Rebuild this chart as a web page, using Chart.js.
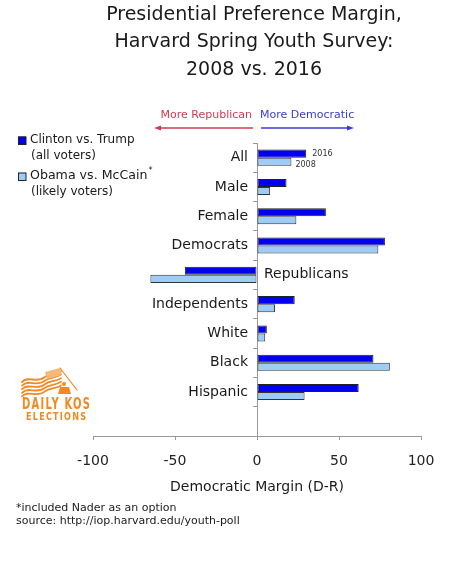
<!DOCTYPE html>
<html><head><meta charset="utf-8">
<script src="https://cdn.jsdelivr.net/npm/chart.js@4.4.0/dist/chart.umd.min.js"></script>
<style>html,body{margin:0;padding:0;background:#fff}canvas{display:block}</style>
</head><body>
<canvas id="c" width="460" height="580"></canvas>
<script>
// ---- data ----
const categories = ["All","Male","Female","Democrats","Republicans","Independents","White","Black","Hispanic",""];
const clintonTrump2016 = [30,18,42,78,-44,23,6,71,62,null];
const obamaMcCain2008 = [21,8,24,74,-65,11,5,81,29,null];
const seriesNames = ["Clinton vs. Trump","Obama vs. McCain"];
const seriesNotes = ["(all voters)","(likely voters)"];
const seriesYears = ["2016","2008"];
const xTicks = [-100,-50,0,50,100];
const titleLines = ["Presidential Preference Margin,","Harvard Spring Youth Survey:","2008 vs. 2016"];
const xAxisTitle = "Democratic Margin (D-R)";
const directionLabels = ["More Republican","More Democratic"];
const footnotes = ["*included Nader as an option","source: http://iop.harvard.edu/youth-poll"];
const logoText = ["DAILY KOS","ELECTIONS"];

const FONT = '"DejaVu Sans", sans-serif';
const COLORS = ["#0000ee","#9dcdf7"];

function fitText(ctx, text, cx, cy, targetW, font, spacing){
  ctx.save();
  ctx.font = font;
  if ('letterSpacing' in ctx) ctx.letterSpacing = spacing + 'px';
  const w = ctx.measureText(text).width - spacing;
  ctx.translate(cx, cy);
  ctx.scale(targetW / w, 1);
  ctx.textAlign = 'left';
  ctx.fillText(text, -w / 2, 0);
  ctx.restore();
}

const overlay = {
  id: 'overlay',
  afterDraw(chart){
    const ctx = chart.ctx;
    const xs = chart.scales.x, ys = chart.scales.y;
    const x0 = xs.getPixelForValue(0);
    ctx.save();
    // title
    ctx.fillStyle = '#1a1a1a';
    ctx.textAlign = 'center'; ctx.textBaseline = 'middle';
    ctx.font = '19px ' + FONT;
    titleLines.forEach((t,i)=> ctx.fillText(t, 254, 15 + i*27.5));
    // direction labels + arrows
    ctx.font = '11px ' + FONT;
    ctx.fillStyle = '#d23a4f'; ctx.textAlign = 'right';
    ctx.fillText(directionLabels[0], x0 - 5, 115);
    ctx.fillStyle = '#3b3bd2'; ctx.textAlign = 'left';
    ctx.fillText(directionLabels[1], x0 + 3, 115);
    ctx.lineWidth = 1.3;
    ctx.strokeStyle = '#d23a4f'; ctx.fillStyle = '#d23a4f';
    ctx.beginPath(); ctx.moveTo(x0 - 4, 128); ctx.lineTo(x0 - 100, 128); ctx.stroke();
    ctx.beginPath(); ctx.moveTo(x0 - 103, 128); ctx.lineTo(x0 - 96, 125.5); ctx.lineTo(x0 - 96, 130.5); ctx.closePath(); ctx.fill();
    ctx.strokeStyle = '#3b3bd2'; ctx.fillStyle = '#3b3bd2';
    ctx.beginPath(); ctx.moveTo(x0 + 4, 128); ctx.lineTo(x0 + 93, 128); ctx.stroke();
    ctx.beginPath(); ctx.moveTo(x0 + 97, 128); ctx.lineTo(x0 + 90, 125.5); ctx.lineTo(x0 + 90, 130.5); ctx.closePath(); ctx.fill();
    // category labels
    ctx.font = '14px ' + FONT; ctx.fillStyle = '#1a1a1a'; ctx.textBaseline = 'middle';
    categories.forEach((c,i)=>{
      if (!c) return;
      const y = ys.getPixelForValue(i);
      const v = clintonTrump2016[i];
      if (v < 0) { ctx.textAlign = 'left'; ctx.fillText(c, x0 + 7, y); }
      else { ctx.textAlign = 'right'; ctx.fillText(c, x0 - 9, y); }
    });
    // year labels next to first category bars
    ctx.font = '8px ' + FONT; ctx.fillStyle = '#333'; ctx.textAlign = 'left';
    [0,1].forEach(d=>{
      const bar = chart.getDatasetMeta(d).data[0];
      ctx.fillText(seriesYears[d], bar.x + (d===0?6:4), bar.y + (d===0?0:3));
    });
    // legend
    const legY = [140, 176];
    [0,1].forEach(d=>{
      const y = legY[d];
      ctx.fillStyle = COLORS[d];
      ctx.fillRect(18, y - 3.5, 8, 8);
      ctx.strokeStyle = '#222'; ctx.lineWidth = 1;
      ctx.strokeRect(18.5, y - 3, 7.5, 7.5);
      ctx.fillStyle = '#1a1a1a'; ctx.font = '12px ' + FONT; ctx.textAlign = 'left';
      if (d === 1) {
        ctx.font = '12.6px ' + FONT;
        ctx.fillText(seriesNames[d], 30, y);
        const w = ctx.measureText(seriesNames[d]).width;
        ctx.font = '8px ' + FONT;
        ctx.fillText('*', 30 + w + 1, y - 5);
        ctx.font = '12px ' + FONT;
      } else {
        ctx.fillText(seriesNames[d], 30, y);
      }
      ctx.fillText(seriesNotes[d], 31, y + 15.5);
    });
    // footnotes
    ctx.font = '11px ' + FONT; ctx.fillStyle = '#1a1a1a'; ctx.textAlign = 'left';
    footnotes.forEach((t,i)=> ctx.fillText(t, 16, 508 + i*13.5));
    // logo
    drawLogo(ctx);
    ctx.restore();
  }
};

function drawLogo(ctx){
  const o = '#f08a24';
  ctx.save();
  ctx.strokeStyle = o; ctx.lineWidth = 1.8; ctx.lineCap = 'round';
  for (let k = 0; k < 5; k++) {
    const dy = k * 3.6;
    ctx.beginPath();
    ctx.moveTo(22, 382 + dy);
    ctx.bezierCurveTo(29, 375 + dy, 36, 384 + dy, 45, 377 + dy);
    ctx.bezierCurveTo(50, 373 + dy, 55, 375 + dy, 61, 371 + dy);
    ctx.stroke();
  }
  // canton
  ctx.fillStyle = '#f6b878';
  ctx.beginPath(); ctx.moveTo(45, 372); ctx.lineTo(60, 368); ctx.lineTo(62, 375); ctx.lineTo(47, 379); ctx.closePath(); ctx.fill();
  // pole
  ctx.lineWidth = 1.2;
  ctx.beginPath(); ctx.moveTo(60, 368); ctx.lineTo(77, 390); ctx.stroke();
  // figure
  ctx.fillStyle = o;
  ctx.beginPath(); ctx.arc(64, 384, 2, 0, Math.PI*2); ctx.fill();
  ctx.beginPath(); ctx.moveTo(58, 394); ctx.lineTo(60, 387); ctx.lineTo(69, 387); ctx.lineTo(71, 394); ctx.closePath(); ctx.fill();
  // text
  ctx.textBaseline = 'middle';
  fitText(ctx, logoText[0], 56, 404.5, 68, 'bold 16px ' + FONT, 2);
  fitText(ctx, logoText[1], 56, 417, 60, 'bold 10px ' + FONT, 1.5);
  ctx.restore();
}

new Chart(document.getElementById('c'), {
  type: 'bar',
  data: {
    labels: categories,
    datasets: [
      { label: seriesNames[0], data: clintonTrump2016, backgroundColor: COLORS[0], borderColor: '#222', borderWidth: 1, borderSkipped: false },
      { label: seriesNames[1], data: obamaMcCain2008, backgroundColor: COLORS[1], borderColor: '#333', borderWidth: 1, borderSkipped: false }
    ]
  },
  options: {
    indexAxis: 'y',
    responsive: false,
    animation: false,
    devicePixelRatio: 1,
    categoryPercentage: 0.55,
    barPercentage: 1.0,
    layout: { padding: { left: 93, right: 39, top: 143, bottom: 84 } },
    plugins: { legend: { display: false }, title: { display: false }, tooltip: { enabled: false } },
    scales: {
      x: {
        type: 'linear', min: -100, max: 100,
        afterBuildTicks: (s) => { s.ticks = xTicks.map(v => ({ value: v })); },
        afterFit: (s) => { s.height = 60; },
        grid: { drawOnChartArea: false, drawTicks: true, tickLength: 4, color: '#999' },
        border: { color: '#999', width: 1 },
        ticks: { color: '#222', font: { family: FONT, size: 14 }, padding: 13 },
        title: { display: true, text: xAxisTitle, color: '#1a1a1a', font: { family: FONT, size: 14 }, padding: { top: 4, bottom: 0 } }
      },
      y: {
        position: { x: 0 },
        grid: { drawOnChartArea: false, offset: true, tickLength: 4, color: '#999' },
        border: { color: '#999', width: 1 },
        ticks: { display: false }
      }
    }
  },
  plugins: [overlay]
});
</script>
</body></html>
